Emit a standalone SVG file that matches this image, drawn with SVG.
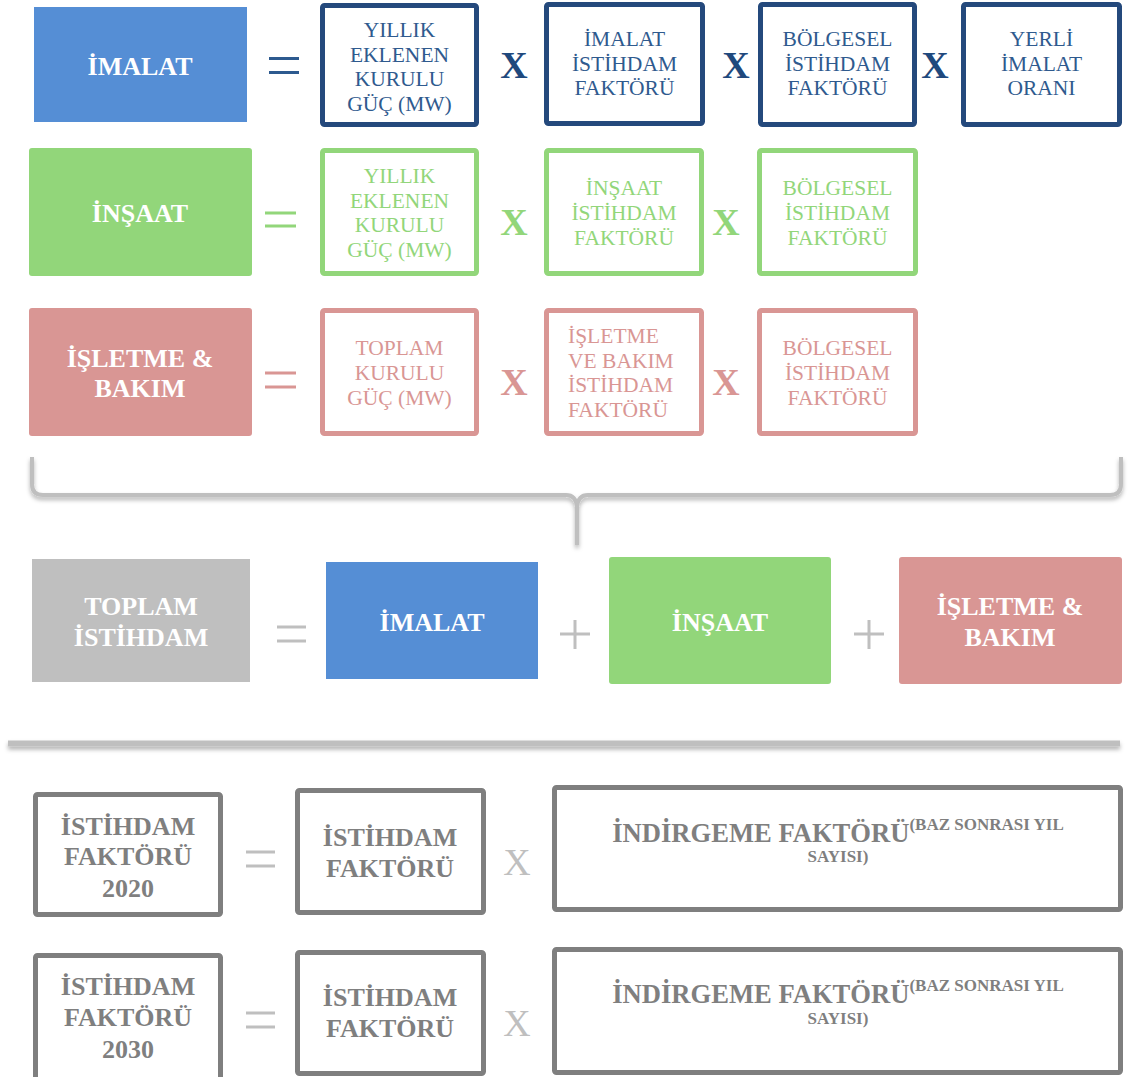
<svg xmlns="http://www.w3.org/2000/svg" width="1130" height="1077" viewBox="0 0 1130 1077" font-family="'Liberation Serif', 'Times New Roman', 'DejaVu Serif', serif">
<defs>
<style>
text{font-family:'Liberation Serif','Times New Roman','DejaVu Serif',serif}
.hdr{font-weight:bold;font-size:26px;fill:#fff;text-anchor:middle}
.bt{font-size:21.5px;text-anchor:middle}
.gt{font-weight:bold;font-size:26px;fill:#7f7f7f;text-anchor:middle}
.gl{font-size:26.6px}
.sup{font-size:17px}
.x{font-weight:bold;font-size:38px;text-anchor:middle}
.xg{font-size:38px;text-anchor:middle;fill:#bfbfbf}
.bb{fill:#fff;stroke:#24497c;stroke-width:5}
.gb{fill:#fff;stroke:#92d67a;stroke-width:5}
.pb{fill:#fff;stroke:#d99694;stroke-width:5}
.kb{fill:#fff;stroke:#7f7f7f;stroke-width:5}
.blue{fill:#2f5a8e}
.green{fill:#92d67a}
.pink{fill:#d99694}
.sym{fill:none;stroke-width:3}
</style>
<filter id="sh" filterUnits="userSpaceOnUse" x="0" y="440" width="1130" height="330">
<feDropShadow dx="0" dy="3" stdDeviation="2" flood-color="#000" flood-opacity="0.3"/>
</filter>
</defs>

<g id="row1">
<g id="imalat-h"><rect x="34" y="7" width="213" height="115" fill="#558ed5"/><text class="hdr" x="140" y="75">İMALAT</text></g>
<g id="b1-1"><rect class="bb" x="322.5" y="5.5" width="154" height="119" rx="2"/>
<text class="bt blue" x="399.5" y="37">YILLIK</text><text class="bt blue" x="399.5" y="61.5">EKLENEN</text><text class="bt blue" x="399.5" y="86">KURULU</text><text class="bt blue" x="399.5" y="110.5">GÜÇ (MW)</text></g>
<g id="b1-2"><rect class="bb" x="546.5" y="4.5" width="156" height="119" rx="2"/>
<text class="bt blue" x="624.5" y="46">İMALAT</text><text class="bt blue" x="624.5" y="70.5">İSTİHDAM</text><text class="bt blue" x="624.5" y="95">FAKTÖRÜ</text></g>
<g id="b1-3"><rect class="bb" x="760.5" y="4.5" width="154" height="120" rx="2"/>
<text class="bt blue" x="837.5" y="46">BÖLGESEL</text><text class="bt blue" x="837.5" y="70.5">İSTİHDAM</text><text class="bt blue" x="837.5" y="95">FAKTÖRÜ</text></g>
<g id="b1-4"><rect class="bb" x="963.5" y="4.5" width="156" height="120" rx="2"/>
<text class="bt blue" x="1041.5" y="46">YERLİ</text><text class="bt blue" x="1041.5" y="70.5">İMALAT</text><text class="bt blue" x="1041.5" y="95">ORANI</text></g>
</g>

<g id="row2">
<g id="insaat-h"><rect x="29" y="148" width="223" height="128" rx="3" fill="#92d67a"/><text class="hdr" x="140" y="222">İNŞAAT</text></g>
<g id="b2-1"><rect class="gb" x="322.5" y="150.5" width="154" height="123" rx="2"/>
<text class="bt green" x="399.5" y="183">YILLIK</text><text class="bt green" x="399.5" y="207.5">EKLENEN</text><text class="bt green" x="399.5" y="232">KURULU</text><text class="bt green" x="399.5" y="256.5">GÜÇ (MW)</text></g>
<g id="b2-2"><rect class="gb" x="546.5" y="150.5" width="155" height="123" rx="2"/>
<text class="bt green" x="624" y="195">İNŞAAT</text><text class="bt green" x="624" y="219.5">İSTİHDAM</text><text class="bt green" x="624" y="244.5">FAKTÖRÜ</text></g>
<g id="b2-3"><rect class="gb" x="759.5" y="150.5" width="156" height="123" rx="2"/>
<text class="bt green" x="837.5" y="195">BÖLGESEL</text><text class="bt green" x="837.5" y="219.5">İSTİHDAM</text><text class="bt green" x="837.5" y="244.5">FAKTÖRÜ</text></g>
</g>

<g id="row3">
<g id="isletme-h"><rect x="29" y="308" width="223" height="128" rx="3" fill="#d99694"/><text class="hdr" x="140" y="367">İŞLETME &amp;</text><text class="hdr" x="140" y="397">BAKIM</text></g>
<g id="b3-1"><rect class="pb" x="322.5" y="310.5" width="154" height="123" rx="2"/>
<text class="bt pink" x="399.5" y="355">TOPLAM</text><text class="bt pink" x="399.5" y="379.5">KURULU</text><text class="bt pink" x="399.5" y="404.5">GÜÇ (MW)</text></g>
<g id="b3-2"><rect class="pb" x="546.5" y="310.5" width="155" height="123" rx="2"/>
<text class="bt pink" style="text-anchor:start" x="568" y="343">İŞLETME</text><text class="bt pink" style="text-anchor:start" x="568" y="367.5">VE BAKIM</text><text class="bt pink" style="text-anchor:start" x="568" y="392">İSTİHDAM</text><text class="bt pink" style="text-anchor:start" x="568" y="417">FAKTÖRÜ</text></g>
<g id="b3-3"><rect class="pb" x="759.5" y="310.5" width="156" height="123" rx="2"/>
<text class="bt pink" x="837.5" y="355">BÖLGESEL</text><text class="bt pink" x="837.5" y="379.5">İSTİHDAM</text><text class="bt pink" x="837.5" y="404.5">FAKTÖRÜ</text></g>
</g>

<g id="row4">
<g id="toplam"><rect x="32" y="559" width="218" height="123" fill="#bfbfbf"/><text class="hdr" x="141" y="615">TOPLAM</text><text class="hdr" x="141" y="646">İSTİHDAM</text></g>
<g id="imalat2"><rect x="326" y="562" width="212" height="117" fill="#558ed5"/><text class="hdr" x="432" y="631">İMALAT</text></g>
<g id="insaat2"><rect x="609" y="557" width="222" height="127" rx="3" fill="#92d67a"/><text class="hdr" x="720" y="631">İNŞAAT</text></g>
<g id="isletme2"><rect x="899" y="557" width="223" height="127" rx="3" fill="#d99694"/><text class="hdr" x="1010" y="615">İŞLETME &amp;</text><text class="hdr" x="1010" y="646">BAKIM</text></g>
</g>

<g id="row5">
<g id="if2020"><rect class="kb" x="35.5" y="794.5" width="185" height="120" rx="2"/>
<text class="gt" x="128" y="835">İSTİHDAM</text><text class="gt" x="128" y="865">FAKTÖRÜ</text><text class="gt" x="128" y="897">2020</text></g>
<g id="if-a"><rect class="kb" x="297.5" y="790.5" width="186" height="122" rx="2"/>
<text class="gt" x="390" y="846">İSTİHDAM</text><text class="gt" x="390" y="877">FAKTÖRÜ</text></g>
<g id="ind-a"><rect class="kb" x="554.5" y="787.5" width="566" height="122" rx="2"/>
<text class="gt gl" x="838" y="842">İNDİRGEME FAKTÖRÜ<tspan class="sup" dy="-12">(BAZ SONRASI YIL</tspan></text>
<text class="gt sup" x="838" y="862">SAYISI)</text></g>
</g>

<g id="row6">
<g id="if2030"><rect class="kb" x="35.5" y="955.5" width="185" height="125" rx="2"/>
<text class="gt" x="128" y="995">İSTİHDAM</text><text class="gt" x="128" y="1026">FAKTÖRÜ</text><text class="gt" x="128" y="1058">2030</text></g>
<g id="if-b"><rect class="kb" x="297.5" y="952.5" width="186" height="121" rx="2"/>
<text class="gt" x="390" y="1006">İSTİHDAM</text><text class="gt" x="390" y="1037">FAKTÖRÜ</text></g>
<g id="ind-b"><rect class="kb" x="554.5" y="949.5" width="566" height="123" rx="2"/>
<text class="gt gl" x="838" y="1003">İNDİRGEME FAKTÖRÜ<tspan class="sup" dy="-12">(BAZ SONRASI YIL</tspan></text>
<text class="gt sup" x="838" y="1024">SAYISI)</text></g>
</g>

<g id="connectors">
<path class="sym" stroke="#2d5a8f" d="M269,58.5H299M269,72.5H299"/>
<path class="sym" stroke="#92d67a" d="M265,213H296M265,226H296"/>
<path class="sym" stroke="#d99694" d="M265,373H296M265,387H296"/>
<text class="x" fill="#1f497d" x="514" y="78">X</text>
<text class="x" fill="#1f497d" x="736" y="78">X</text>
<text class="x" fill="#1f497d" x="935" y="78">X</text>
<text class="x" fill="#92d67a" x="514" y="235">X</text>
<text class="x" fill="#92d67a" x="726" y="235">X</text>
<text class="x" fill="#d99694" x="514" y="395">X</text>
<text class="x" fill="#d99694" x="726" y="395">X</text>
<path fill="none" stroke="#bfbfbf" stroke-width="4" filter="url(#sh)" d="M32,457V484Q32,495 43,495H566Q576,495 577,507Q578,495 588,495H1110Q1121,495 1121,484V457M577,505V545"/>
<path class="sym" stroke="#bfbfbf" d="M277,627H306M277,641H306"/>
<path class="sym" stroke="#bfbfbf" d="M560,634H590M575,620V649"/>
<path class="sym" stroke="#bfbfbf" d="M854,634H884M869,620V649"/>
<rect x="8" y="740.5" width="1112" height="6" fill="#bfbfbf" filter="url(#sh)"/>
<path class="sym" stroke="#bfbfbf" d="M246,852H275M246,866H275"/>
<path class="sym" stroke="#bfbfbf" d="M246,1013H275M246,1027H275"/>
<text class="xg" x="517" y="875">X</text>
<text class="xg" x="517" y="1036">X</text>
</g>
</svg>
